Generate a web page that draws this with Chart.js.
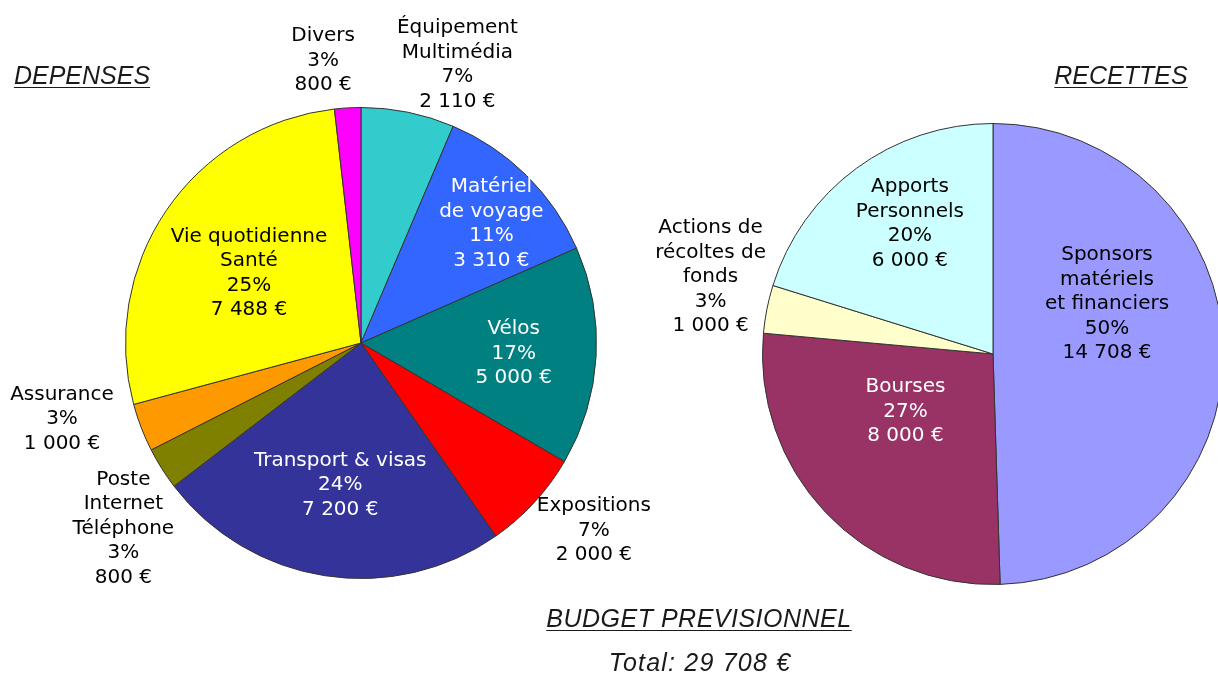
<!DOCTYPE html>
<html>
<head>
<meta charset="utf-8">
<script src="https://cdn.jsdelivr.net/npm/chart.js@4.4.0/dist/chart.umd.min.js"></script>
<style>
    html, body { margin: 0; padding: 0; background: #fff; overflow: hidden; width: 1218px; height: 673px; }
    canvas { position: absolute; left: 0; top: 0; }
    .title {
        position: absolute;
        font: italic 25px "Liberation Sans", Arial, sans-serif;
        line-height: 1;
        color: #1a1a1a;
        text-decoration: underline;
        text-decoration-thickness: 1px;
        text-underline-offset: 3px;
        white-space: nowrap;
        transform: translateX(-50%);
    }
</style>
</head>
<body>
<canvas id="depenses" width="1218" height="673"></canvas>
<canvas id="recettes" width="1250" height="673"></canvas>
<div class="title" style="left:82px; top:63px;">DEPENSES</div>
<div class="title" style="left:1121px; top:63px;">RECETTES</div>
<div class="title" style="left:699px; top:606px; letter-spacing:0.5px;">BUDGET PREVISIONNEL</div>
<div class="title" id="total" style="left:700px; top:650px; letter-spacing:1.2px;"></div>

<script>
const depensesLabels = [["Équipement", "Multimédia"], ["Matériel", "de voyage"], ["Vélos"], ["Expositions"],
    ["Transport & visas"], ["Poste", "Internet", "Téléphone"], ["Assurance"], ["Vie quotidienne", "Santé"], ["Divers"]];
// amounts printed on the labels
const depensesValues = [2110, 3310, 5000, 2000, 7200, 800, 1000, 7488, 800];
// the slices in the picture are not cut from the printed amounts: share of the pie (%) as drawn
const depensesSlices = [6.4, 12.0, 15.0, 6.9, 24.3, 2.9, 3.3, 27.4, 1.8];

const recettesLabels = [["Sponsors", "matériels", "et financiers"], ["Bourses"], ["Actions de", "récoltes de", "fonds"], ["Apports", "Personnels"]];
const recettesValues = [14708, 8000, 1000, 6000];

// styles
const depensesColors = ['#33CCCC', '#3366FF', '#008080', '#FF0000', '#333399', '#808000', '#FF9900', '#FFFF00', '#FF00FF'];
const depensesTextColors = ['#000', '#fff', '#fff', '#000', '#fff', '#000', '#000', '#000', '#000'];
const recettesColors = ['#9999FF', '#993366', '#FFFFCC', '#CCFFFF'];
const recettesTextColors = ['#000', '#fff', '#000', '#000'];

// label placement: [shift from the slice middle angle in degrees, distance as a share of the radius]
const depensesSpots = [[7.6, 1.25], [2.95, 0.75], [0.75, 0.65], [-3.8, 1.27], [-0.5, 0.61], [-5.75, 1.28], [6.8, 1.31], [-2.35, 0.56], [-4.4, 1.21]];
const recettesSpots = [[-22.8, 0.54], [9.9, 0.455], [4, 1.27], [3.8, 0.67]];

function euro(v) {
    return String(v).replace(/\B(?=(\d{3})+(?!\d))/g, ' ') + ' €';
}

const sliceLabels = {
    id: 'sliceLabels',
    afterDatasetsDraw(chart, args, opts) {
        const ctx = chart.ctx;
        const meta = chart.getDatasetMeta(0);
        const amounts = opts.amounts;
        const total = amounts.reduce((a, b) => a + b, 0);

        ctx.save();
        ctx.font = '20px "DejaVu Sans"';
        ctx.textAlign = 'center';
        ctx.textBaseline = 'middle';
        meta.data.forEach((arc, i) => {
            const p = arc.getProps(['x', 'y', 'startAngle', 'endAngle', 'outerRadius'], true);
            const shift = opts.spots[i][0];
            const dist = opts.spots[i][1];
            const a = (p.startAngle + p.endAngle) / 2 + shift * Math.PI / 180;
            const cx = p.x + Math.cos(a) * dist * p.outerRadius;
            const cy = p.y + Math.sin(a) * dist * p.outerRadius;
            const lines = [...chart.data.labels[i], Math.round(amounts[i] / total * 100) + '%', euro(amounts[i])];
            ctx.fillStyle = opts.colors[i];
            for (let k = 0; k < lines.length; k++) {
                ctx.fillText(lines[k], cx, cy + (k - (lines.length - 1) / 2) * 24.5);
            }
        });
        ctx.restore();
    }
};

function drawPie(id, labels, slices, amounts, colors, textColors, spots, padding) {
    const ctx = document.getElementById(id).getContext('2d');
    return new Chart(ctx, {
        type: 'pie',
        data: {
            labels: labels,
            datasets: [{
                data: slices,
                backgroundColor: colors,
                borderColor: '#333',
                borderWidth: 1
            }]
        },
        options: {
            responsive: false,
            animation: false,
            layout: { padding: padding },
            plugins: {
                legend: { display: false },
                tooltip: { enabled: false },
                sliceLabels: { spots: spots, colors: textColors, amounts: amounts }
            }
        },
        plugins: [sliceLabels]
    });
}

drawPie('depenses', depensesLabels, depensesSlices, depensesValues, depensesColors, depensesTextColors, depensesSpots,
    { left: 125, top: 107, right: 621, bottom: 94 });
drawPie('recettes', recettesLabels, recettesValues, recettesValues, recettesColors, recettesTextColors, recettesSpots,
    { left: 762, top: 123, right: 26, bottom: 88 });

const total = depensesValues.reduce((a, b) => a + b, 0);
document.getElementById('total').textContent = 'Total: ' + euro(total);
</script>
</body>
</html>
